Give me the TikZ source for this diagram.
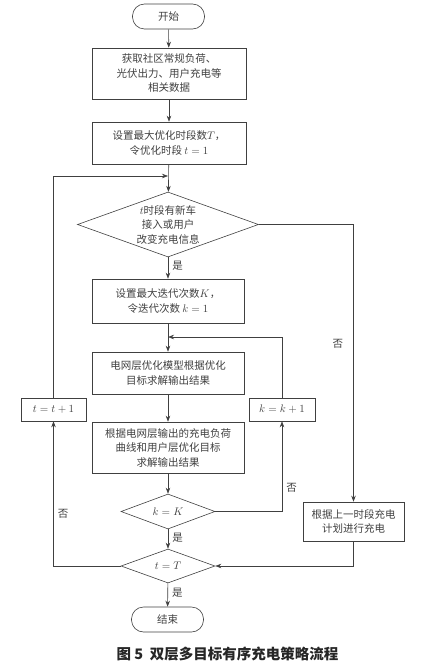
\documentclass[tikz,border=0pt]{standalone}
\usepackage{fontspec}
\setmainfont{Noto Sans CJK SC}
\usetikzlibrary{arrows.meta,shapes.geometric}
\begin{document}
\begin{tikzpicture}[x=1pt,y=-1pt,
  every node/.style={font=\fontsize{10.5}{14.5}\selectfont, text=black!75},
  line/.style={draw=black!75, line width=0.6pt},
  arr/.style={line, -{Stealth[length=6pt,width=4.5pt]}},
  term/.style={line, rectangle, rounded corners=12pt, minimum width=72pt, minimum height=25pt, inner sep=0pt},
  pbox/.style={line, rectangle, align=center, inner sep=0pt},
  dec/.style={line, diamond, align=center, inner sep=0pt},
  lab/.style={font=\fontsize{10.5}{12}\selectfont, inner sep=0pt}]
\useasboundingbox (0,0) rectangle (441,669);

\node[term] (start) at (168.5,16.5) {开始};
\node[pbox, minimum width=154pt, minimum height=51pt] (b1) at (169,73.5) {获取社区常规负荷、\\光伏出力、用户充电等\\相关数据};
\node[pbox, minimum width=154pt, minimum height=42pt] (b2) at (169,143) {设置最大优化时段数$T$，\\令优化时段 $t=1$};
\node[dec, minimum width=181pt, minimum height=65pt, aspect=2.8] (d1) at (168,224.5) {$t$时段有新车\\接入或用户\\改变充电信息};
\node[pbox, minimum width=152pt, minimum height=44pt] (b3) at (168,301) {设置最大迭代次数$K$，\\令迭代次数 $k=1$};
\node[pbox, minimum width=152pt, minimum height=42pt] (b4) at (168,373) {电网层优化模型根据优化\\目标求解输出结果};
\node[pbox, minimum width=66pt, minimum height=23pt] (kk) at (282,409.5) {$k=k+1$};
\node[pbox, minimum width=65pt, minimum height=23pt] (tt) at (53.5,409.5) {$t=t+1$};
\node[pbox, minimum width=152pt, minimum height=51pt] (b5) at (168,447.5) {根据电网层输出的充电负荷\\曲线和用户层优化目标\\求解输出结果};
\node[dec, minimum width=94pt, minimum height=35pt, aspect=2.7] (dk) at (168,511.5) {$k=K$};
\node[pbox, minimum width=101pt, minimum height=39pt] (rb) at (353.5,521.5) {根据上一时段充电\\计划进行充电};
\node[dec, minimum width=94pt, minimum height=34pt, aspect=2.75] (dT) at (168,566) {$t=T$};
\node[term] (end) at (167.5,619.5) {结束};

\coordinate (j1) at (168,176);
\coordinate (j2) at (168,337);

\draw[arr] (start) -- (b1);
\draw[arr] (b1) -- (b2);
\draw[arr] (b2) -- (d1);
\draw[arr] (d1) -- node[lab, right=4pt, pos=0.4] {是} (b3);
\draw[arr] (b3) -- (b4);
\draw[arr] (b4) -- (b5);
\draw[arr] (b5) -- (dk);
\draw[arr] (dk) -- node[lab, right=4pt, pos=0.45] {是} (dT);
\draw[arr] (dT) -- node[lab, right=4pt, pos=0.4] {是} (end);
\draw[arr] (dk.east) -| node[lab, pos=0.63, right=4pt] {否} (kk.south);
\draw[arr] (kk.north) |- (j2);
\draw[arr] (dT.west) -| node[lab, pos=0.68, right=4pt] {否} (tt.south);
\draw[arr] (tt.north) |- (j1);
\draw[arr] (d1.east) -| node[lab, pos=0.715, left=10pt] {否} (rb.north);
\draw[arr] (rb.south) |- (dT.east);

\node[font=\fontsize{14.5}{16}\selectfont\bfseries, text=black!85] (cap) at (227.5,654) {图 5\ \ 双层多目标有序充电策略流程};
\end{tikzpicture}
\end{document}
